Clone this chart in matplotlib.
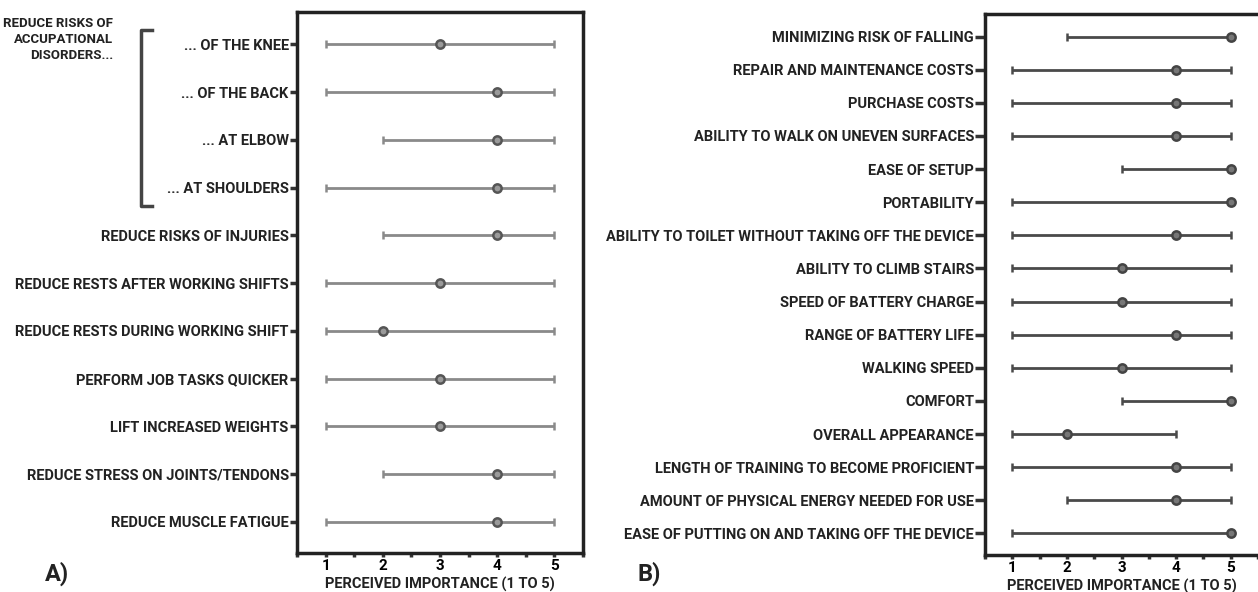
import matplotlib.pyplot as plt
import numpy as np

plt.rcParams['font.family'] = ['Roboto', 'DejaVu Sans']
plt.rcParams['font.weight'] = 'bold'

# Panel A: benefits (top to bottom)
labels_a = ['... OF THE KNEE', '... OF THE BACK', '... AT ELBOW', '... AT SHOULDERS',
            'REDUCE RISKS OF INJURIES', 'REDUCE RESTS AFTER WORKING SHIFTS',
            'REDUCE RESTS DURING WORKING SHIFT', 'PERFORM JOB TASKS QUICKER',
            'LIFT INCREASED WEIGHTS', 'REDUCE STRESS ON JOINTS/TENDONS',
            'REDUCE MUSCLE FATIGUE']
min_a = [1, 1, 2, 1, 2, 1, 1, 1, 1, 2, 1]
mid_a = [3, 4, 4, 4, 4, 3, 2, 3, 3, 4, 4]
max_a = [5, 5, 5, 5, 5, 5, 5, 5, 5, 5, 5]

# Panel B: device features (top to bottom)
labels_b = ['MINIMIZING RISK OF FALLING', 'REPAIR AND MAINTENANCE COSTS', 'PURCHASE COSTS',
            'ABILITY TO WALK ON UNEVEN SURFACES', 'EASE OF SETUP', 'PORTABILITY',
            'ABILITY TO TOILET WITHOUT TAKING OFF THE DEVICE', 'ABILITY TO CLIMB STAIRS',
            'SPEED OF BATTERY CHARGE', 'RANGE OF BATTERY LIFE', 'WALKING SPEED', 'COMFORT',
            'OVERALL APPEARANCE', 'LENGTH OF TRAINING TO BECOME PROFICIENT',
            'AMOUNT OF PHYSICAL ENERGY NEEDED FOR USE',
            'EASE OF PUTTING ON AND TAKING OFF THE DEVICE']
min_b = [2, 1, 1, 1, 3, 1, 1, 1, 1, 1, 1, 3, 1, 1, 2, 1]
mid_b = [5, 4, 4, 4, 5, 5, 4, 3, 3, 4, 3, 5, 2, 4, 4, 5]
max_b = [5, 5, 5, 5, 5, 5, 5, 5, 5, 5, 5, 5, 4, 5, 5, 5]

x_ticks = [1, 2, 3, 4, 5]

fig = plt.figure(figsize=(12.58, 5.92), dpi=100)
ax_a = fig.add_axes([0.2361, 0.0659, 0.2273, 0.9138])
ax_b = fig.add_axes([0.7830, 0.0625, 0.2170, 0.9139])


def draw_panel(ax, labels, lo, mid, hi, line_color, marker_edge, marker_face, xmax, ytick_len):
    y = np.arange(len(labels))
    mid = np.array(mid)
    err = [mid - np.array(lo), np.array(hi) - mid]
    ax.errorbar(mid, y, xerr=err, fmt='o', color=line_color, ecolor=line_color,
                elinewidth=2, capsize=3, capthick=1.5, markersize=6,
                markeredgewidth=1.8, markeredgecolor=marker_edge,
                markerfacecolor=marker_face)
    ax.set_ylim(len(labels) - 0.35, -0.68)
    ax.set_xlim(0.5, xmax)
    ax.set_yticks(y)
    ax.set_yticklabels(labels, fontsize=10.5, fontweight='bold', color='#222222')
    ax.set_xticks(x_ticks)
    ax.set_xticklabels([str(t) for t in x_ticks], fontsize=11, fontweight='bold')
    ax.set_xticks(np.arange(0.5, 5.51, 0.5), minor=True)
    ax.tick_params(axis='y', length=ytick_len, width=2.5, pad=1, color='#333333')
    ax.tick_params(axis='x', which='both', length=3, width=2.5, pad=1, color='#333333')
    for s in ax.spines.values():
        s.set_linewidth(2.5)
        s.set_color('#222222')
    ax.set_xlabel('PERCEIVED IMPORTANCE (1 TO 5)', fontsize=10.5, fontweight='bold',
                  labelpad=3, color='#222222')


draw_panel(ax_a, labels_a, min_a, mid_a, max_a, '#8a8a8a', '#555555', '#9a9a9a', 5.47, 5)
draw_panel(ax_b, labels_b, min_b, mid_b, max_b, '#4a4a4a', '#444444', '#777777', 5.375, 7)
ax_b.spines['right'].set_visible(False)

# group label and bracket for panel A
fig.text(0.090, 0.972, 'REDUCE RISKS OF\nACCUPATIONAL\nDISORDERS...', ha='right', va='top',
         fontsize=9.5, fontweight='bold', linespacing=1.3, color='#222222')
fig.add_artist(plt.Line2D([0.121, 0.112, 0.112, 0.121], [0.949, 0.949, 0.652, 0.652],
                          color='#444444', linewidth=2.5))

fig.text(0.036, 0.02, 'A)', fontsize=17, fontweight='bold', color='#222222')
fig.text(0.507, 0.02, 'B)', fontsize=17, fontweight='bold', color='#222222')

fig.savefig('out.png', dpi=100)
